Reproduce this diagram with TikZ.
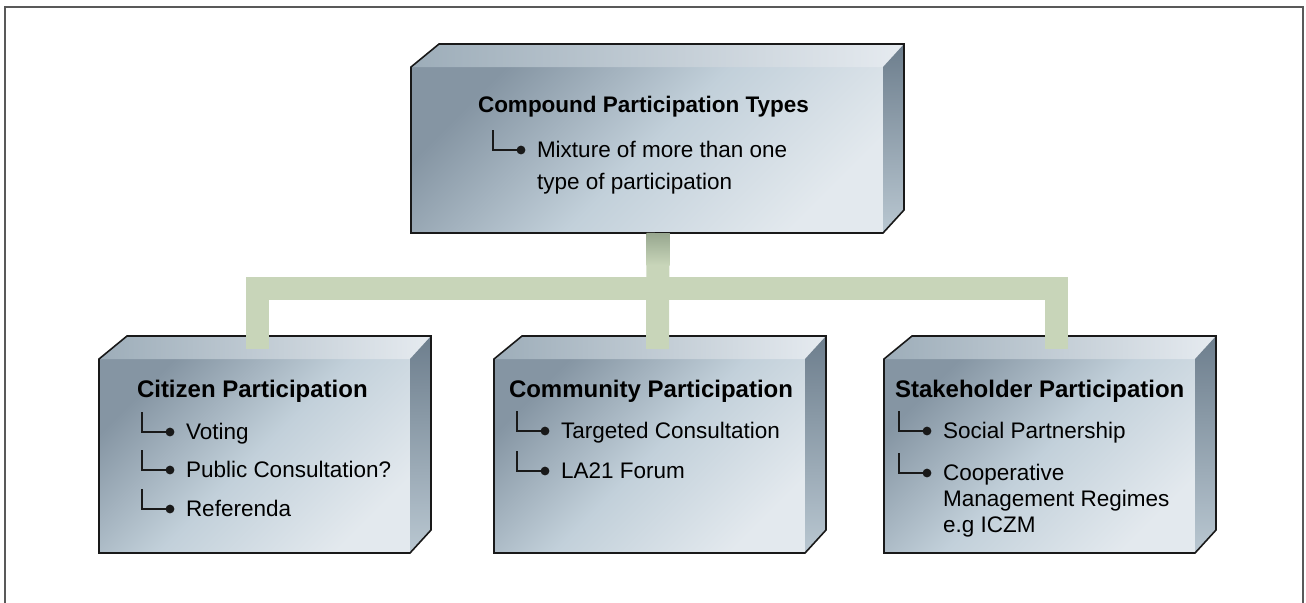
\documentclass[tikz,border=0pt]{standalone}
\usepackage{fontspec}
\setmainfont{Liberation Sans}
\usetikzlibrary{calc}

\definecolor{faceA}{HTML}{8595A3}
\definecolor{faceB}{HTML}{C2D0DA}
\definecolor{faceC}{HTML}{E3E9EE}
\definecolor{lidL}{HTML}{9DADB9}
\definecolor{lidR}{HTML}{E6EBF0}
\definecolor{sideT}{HTML}{6D7E8D}
\definecolor{sideB}{HTML}{B9C7D1}
\definecolor{barc}{HTML}{C8D5B9}
\definecolor{barsh}{HTML}{97A78F}

\begin{document}
\begin{tikzpicture}[
        x=0.5pt, y=-0.5pt,
        every node/.style={inner sep=0pt, outer sep=0pt},
        front/.style={rectangle, top color=faceA, bottom color=faceC, middle color=faceB, shading angle=45, minimum width=155.5pt, minimum height=97pt},
        lid/.style={left color=lidL, right color=lidR},
        side/.style={top color=sideT, bottom color=sideB},
        rim/.style={draw=black!90, line width=0.8pt, line join=miter},
        bar/.style={draw=barc, line width=11.5pt},
        head/.style={anchor=base west, font=\bfseries\fontsize{12}{14}\selectfont},
        item/.style={anchor=base west, font=\fontsize{11.25}{13}\selectfont},
        elbow/.style={draw=black!90, line width=1.1pt},
        dotm/.style={circle, fill=black!90, minimum size=4.4pt}
    ]
        \useasboundingbox (0,0) rectangle (1306,602);
        \draw[draw=black!65, line width=1pt] (5,606) |- (1303,7) -- (1303,606);

        % Boxes
        \node[front, minimum width=236pt, minimum height=83pt] (top) at (647,150) {};
        \node[front] (cit) at (254.5,456) {};
        \node[front] (com) at (649.5,456) {};
        \node[front] (stk) at (1039.5,456) {};

        \foreach \b in {top,cit,com,stk} {
            \shade[lid] (\b.north west) -- ++(28,-23) -- ($(\b.north east)+(21,-23)$) -- (\b.north east) -- cycle;
            \shade[side] (\b.north east) -- ++(21,-23) -- ($(\b.south east)+(21,-23)$) -- (\b.south east) -- cycle;
            \draw[rim] (\b.south west) -- (\b.north west) -- ++(28,-23) -- ($(\b.north east)+(21,-23)$) -- ($(\b.south east)+(21,-23)$) -- (\b.south east) -- cycle;
        }

        % Connectors
        \coordinate (hub) at (658,288);
        \coordinate (citin) at ($(cit.north)+(3,-10)$);
        \coordinate (comin) at ($(com.north)+(8,-10)$);
        \coordinate (stkin) at ($(stk.north)+(17,-10)$);
        \draw[bar] (citin) |- (hub) -| (stkin);
        \draw[bar] (top.south -| hub) -- (comin);
        \shade[top color=barsh, bottom color=barc] ($(top.south -| hub)+(-11.5,0)$) rectangle ($(top.south -| hub)+(11.5,32)$);

        % Texts
        \node[head, font=\bfseries\fontsize{11.25}{14}\selectfont] (toph) at (478,112) {Compound Participation Types};
        \node[item, font=\fontsize{11.25}{16}\selectfont] (top1) at ($(toph.base west)+(59,45)$) {\begin{tabular}[t]{@{}l@{}}Mixture of more than one\\type of participation\end{tabular}};

        \node[head] (cith) at (137,397) {Citizen Participation};
        \node[item] (cit1) at ($(cith.base west)+(49,42)$) {Voting};
        \node[item] (cit2) at ($(cit1.base west)+(0,38)$) {Public Consultation?};
        \node[item] (cit3) at ($(cit2.base west)+(0,39)$) {Referenda};

        \node[head] (comh) at (509,397) {Community Participation};
        \node[item] (com1) at ($(comh.base west)+(52,41)$) {Targeted Consultation};
        \node[item] (com2) at ($(com1.base west)+(0,40)$) {LA21 Forum};

        \node[head] (stkh) at (895,397) {Stakeholder Participation};
        \node[item] (stk1) at ($(stkh.base west)+(48,41)$) {Social Partnership};
        \node[item] (stk2) at ($(stk1.base west)+(0,42)$) {\begin{tabular}[t]{@{}l@{}}Cooperative\\Management Regimes\\e.g ICZM\end{tabular}};

        % Bullet elbows
        \foreach \i in {top1,cit1,cit2,cit3,com1,com2,stk1,stk2}
            \draw[elbow] ($(\i.base west)+(-44,-27)$) |- ($(\i.base west)+(-16,-7)$) node[dotm] {};

    \end{tikzpicture}
\end{document}
